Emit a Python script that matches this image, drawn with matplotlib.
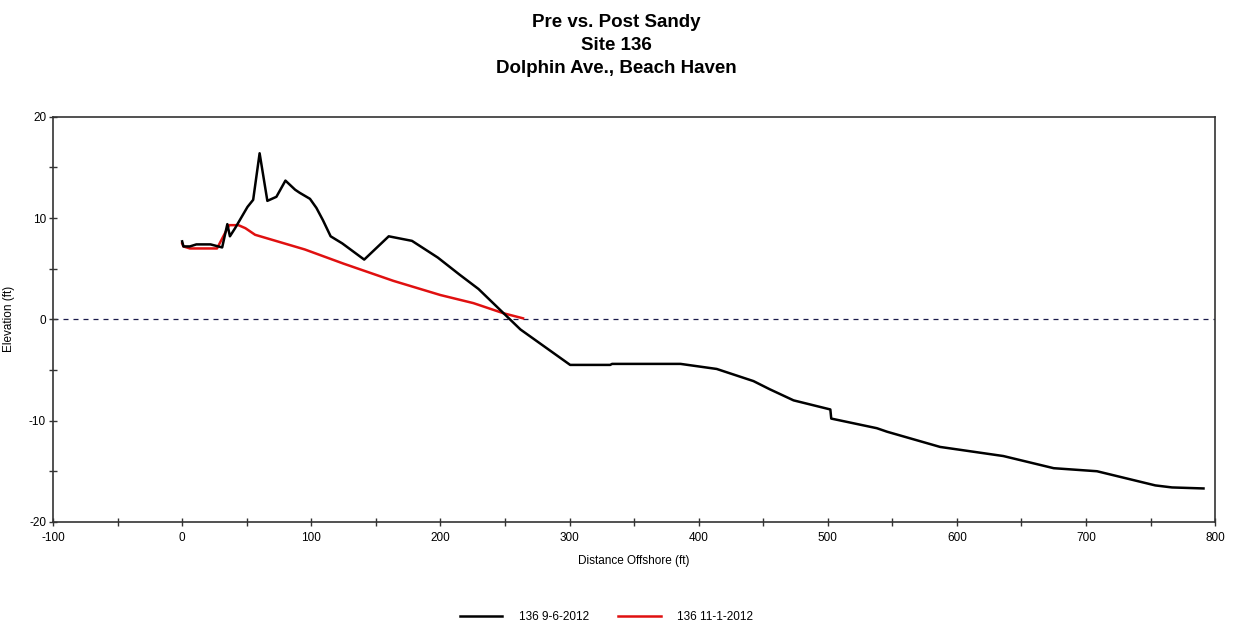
import numpy as np
import matplotlib.pyplot as plt

plt.rcParams['font.family'] = ['Liberation Sans', 'DejaVu Sans']
plt.rcParams['axes.unicode_minus'] = False

# profile surveyed 9-6-2012 (pre Sandy)
pre_x = [0, 1, 6, 11, 22, 31, 35, 37, 41, 50.6, 55, 60, 66, 73, 80, 87.5, 91, 99,
         104, 109, 115, 124, 141, 160, 178, 198, 215, 229.5, 251, 262, 300.5, 331.5,
         333, 386, 414, 442.5, 455, 473.5, 502, 502.7, 538, 546, 587, 636, 675,
         708.5, 753.7, 766.6, 791]
pre_y = [7.7, 7.2, 7.2, 7.4, 7.4, 7.1, 9.4, 8.2, 9.0, 11.1, 11.8, 16.4, 11.7, 12.1,
         13.7, 12.8, 12.5, 11.9, 11.0, 9.8, 8.2, 7.5, 5.9, 8.2, 7.75, 6.1, 4.4, 3.0,
         0.35, -1.0, -4.5, -4.5, -4.4, -4.4, -4.9, -6.1, -6.9, -8.0, -8.9, -9.8,
         -10.75, -11.1, -12.6, -13.5, -14.7, -15.0, -16.4, -16.6, -16.7]

# profile surveyed 11-1-2012 (post Sandy)
post_x = [0, 1, 6, 27, 36.4, 43.6, 49, 56.5, 95, 125, 163.6, 200, 225.6, 248.9, 264]
post_y = [7.5, 7.2, 7.0, 7.0, 9.3, 9.3, 9.0, 8.35, 6.9, 5.5, 3.8, 2.4, 1.6, 0.6, 0.1]

labels = ['136 9-6-2012', '136 11-1-2012']

fig = plt.figure(figsize=(12.33, 6.28), dpi=100)
ax = fig.add_axes([0.043, 0.169, 0.9425, 0.645])

ax.axhline(0, color='#1a1a4a', lw=0.9, ls=(0, (4, 4)), zorder=1)
ax.plot(pre_x, pre_y, color='black', lw=1.8, label=labels[0], zorder=3)
ax.plot(post_x, post_y, color='#e01010', lw=1.8, label=labels[1], zorder=2)

ax.set_xlim(-100, 800)
ax.set_ylim(-20, 20)
ax.set_xticks(np.arange(-100, 801, 100))
ax.set_xticks(np.arange(-50, 800, 100), minor=True)
ax.set_yticks(np.arange(-20, 21, 10))
ax.set_yticks(np.arange(-15, 20, 10), minor=True)
ax.tick_params(which='both', direction='inout', length=6, width=1, labelsize=8.5,
               color='#333333')
ax.tick_params(axis='x', pad=4)
ax.tick_params(axis='y', pad=2)
for s in ax.spines.values():
    s.set_linewidth(1.2)
    s.set_color('#333333')

ax.set_xlabel('Distance Offshore (ft)', fontsize=8.5, labelpad=8)
ax.set_ylabel('Elevation (ft)', fontsize=8.5)
ax.yaxis.set_label_coords(-0.033, 0.5)

fig.text(0.5, 0.977, 'Pre vs. Post Sandy\nSite 136\nDolphin Ave., Beach Haven',
         ha='center', va='top', fontsize=13.5, fontweight='bold', linespacing=1.45)

fig.legend(loc='center', bbox_to_anchor=(0.492, 0.017), ncol=2, frameon=False,
           fontsize=8.5, handlelength=3.6, columnspacing=2.5, handletextpad=1.4)

fig.savefig('out.png', dpi=100)
